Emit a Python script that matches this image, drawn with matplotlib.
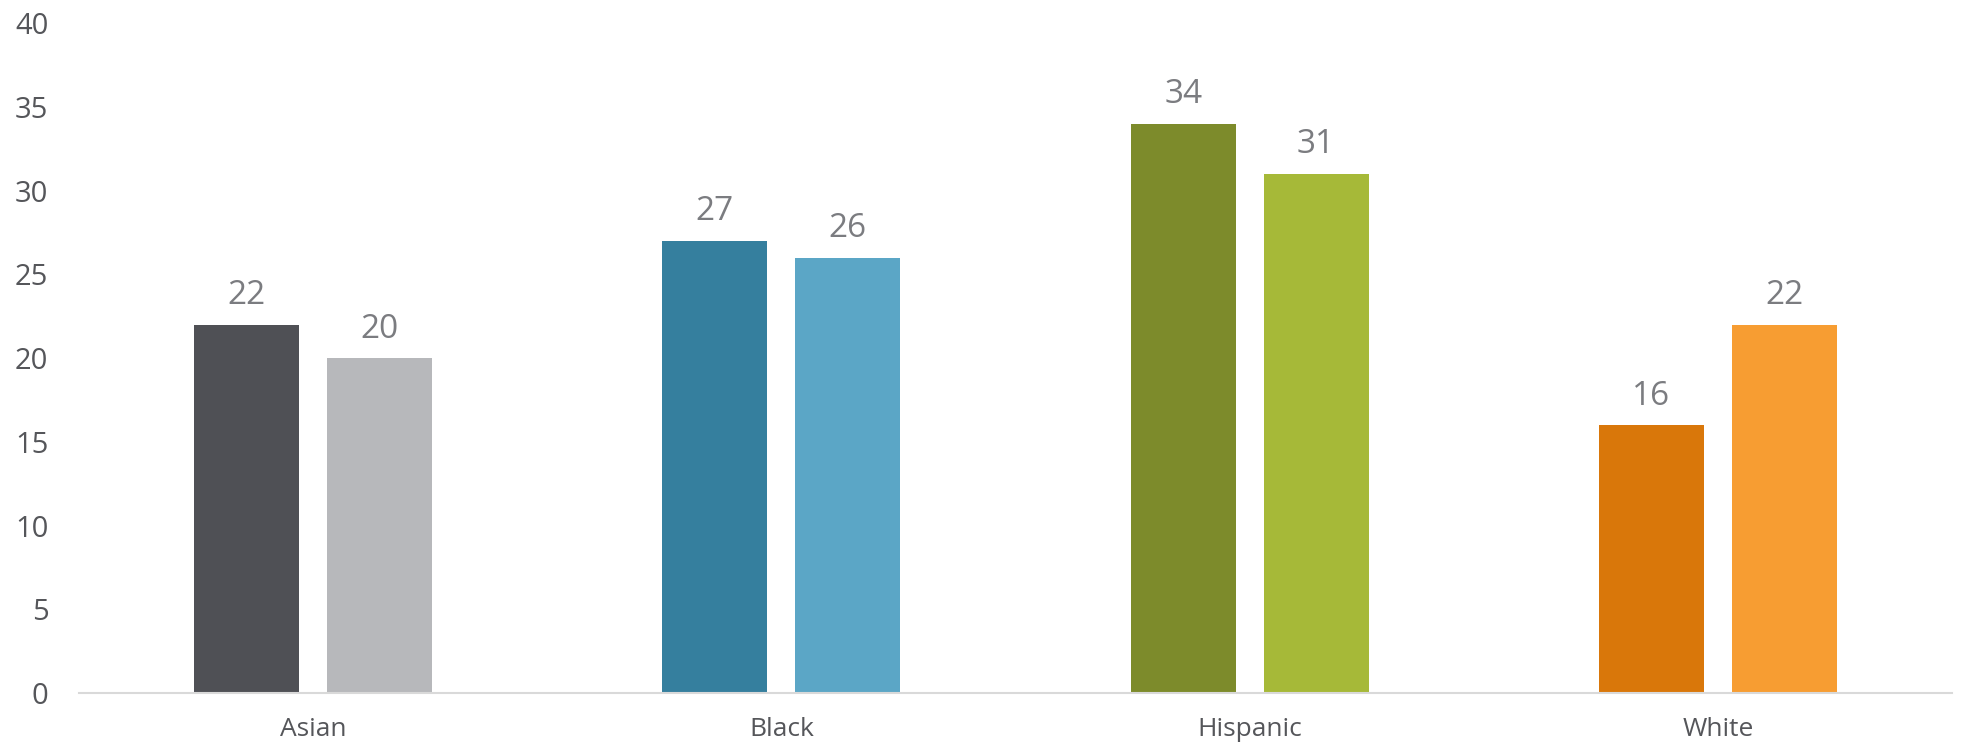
import matplotlib
matplotlib.use("Agg")
import matplotlib.pyplot as plt
import numpy as np

categories = ["Asian", "Black", "Hispanic", "White"]
series_a = [22, 27, 34, 16]
series_b = [20, 26, 31, 22]
colors_a = ["#4f5055", "#357f9e", "#7d8b2b", "#d9770a"]
colors_b = ["#b7b8bb", "#5ba6c6", "#a6b938", "#f79d32"]
yticks = [0, 5, 10, 15, 20, 25, 30, 35, 40]

plt.rcParams['font.family'] = ['Open Sans', 'DejaVu Sans']

fig = plt.figure(figsize=(19.61, 7.48), dpi=100)
ax = fig.add_axes([0.0403, 0.0735, 0.9551, 0.8955])

x = np.arange(len(categories))
w = 0.224
off = 0.142
bars_a = ax.bar(x - off, series_a, w, color=colors_a)
bars_b = ax.bar(x + off, series_b, w, color=colors_b)

for bars, vals in ((bars_a, series_a), (bars_b, series_b)):
    for b, v in zip(bars, vals):
        ax.annotate(str(v), (b.get_x() + b.get_width() / 2, v),
                    xytext=(0, 9), textcoords="offset points",
                    ha="center", va="bottom", fontsize=24, color="#7b7c80")

ax.set_xlim(-0.5, 3.5)
ax.set_ylim(0, 40)
ax.set_yticks(yticks)
ax.set_xticks(x)
ax.set_xticklabels(categories)
ax.tick_params(axis="both", length=0, colors="#55565a")
ax.tick_params(axis="y", labelsize=21, pad=22)
ax.tick_params(axis="x", labelsize=19, pad=17)
for s in ("top", "right", "left"):
    ax.spines[s].set_visible(False)
ax.spines["bottom"].set_color("#d9d9d9")
ax.spines["bottom"].set_linewidth(1.5)

fig.savefig("out.png", dpi=100)
